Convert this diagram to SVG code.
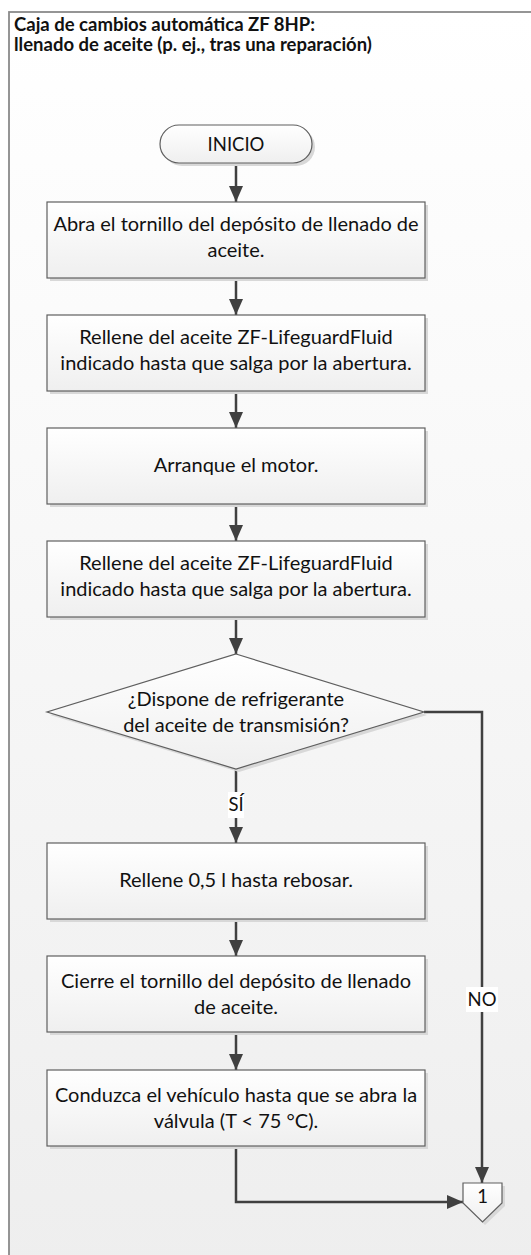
<svg xmlns="http://www.w3.org/2000/svg" width="531" height="1255" viewBox="0 0 531 1255">
<defs>
<linearGradient id="bg" x1="0" y1="0" x2="0" y2="1">
<stop offset="0" stop-color="#ffffff"/>
<stop offset="1" stop-color="#eeeeee"/>
</linearGradient>
<linearGradient id="nf" x1="0" y1="0" x2="0" y2="1">
<stop offset="0" stop-color="#ffffff"/>
<stop offset="1" stop-color="#efefef"/>
</linearGradient>
<marker id="ah" markerUnits="userSpaceOnUse" markerWidth="16" markerHeight="14" refX="16" refY="7" orient="auto">
<path d="M0,0 L16,7 L0,14 Z" fill="#404040"/>
</marker>
<style>
.box{fill:url(#nf);stroke:#5f5f5f;stroke-width:1.2}
.sh{fill:#d8d8d8}
.t{font-family:Lato,"Liberation Sans",sans-serif;font-size:20px;fill:#111;text-anchor:middle}
.s{font-size:18.5px}
.ttl{font-family:Lato,"Liberation Sans",sans-serif;font-size:18.5px;font-weight:bold;fill:#111}
.c{fill:none;stroke:#404040;stroke-width:2.5}
.lbl{fill:#ffffff}
</style>
</defs>
<rect x="9" y="12" width="540" height="1260" fill="url(#bg)" stroke="#8a8a8a" stroke-width="1.8"/>
<g id="title">
<text class="ttl" x="14" y="31">Caja de cambios automática ZF 8HP:</text>
<text class="ttl" x="14" y="51">llenado de aceite (p. ej., tras una reparación)</text>
</g>
<g id="connectors">
<line class="c" x1="236" y1="163" x2="236" y2="202" marker-end="url(#ah)"/>
<line class="c" x1="236" y1="278" x2="236" y2="315" marker-end="url(#ah)"/>
<line class="c" x1="236" y1="391" x2="236" y2="428" marker-end="url(#ah)"/>
<line class="c" x1="236" y1="504" x2="236" y2="541" marker-end="url(#ah)"/>
<line class="c" x1="236" y1="617" x2="236" y2="654" marker-end="url(#ah)"/>
<line class="c" x1="236" y1="769" x2="236" y2="843" marker-end="url(#ah)"/>
<line class="c" x1="236" y1="919" x2="236" y2="956" marker-end="url(#ah)"/>
<line class="c" x1="236" y1="1032" x2="236" y2="1070" marker-end="url(#ah)"/>
<polyline class="c" points="236,1146 236,1202 463,1202" marker-end="url(#ah)"/>
<polyline class="c" points="424,712 482,712 482,1183" marker-end="url(#ah)"/>
<rect class="lbl" x="228" y="792" width="16" height="26"/>
<text class="t s" x="236" y="811">SÍ</text>
<rect class="lbl" x="466" y="987" width="32" height="25"/>
<text class="t s" x="482" y="1006">NO</text>
</g>
<g id="inicio">
<rect x="163" y="128" width="152" height="38" rx="19" class="sh"/>
<rect x="160" y="125" width="152" height="38" rx="19" class="box"/>
<text class="t s" x="236" y="151">INICIO</text>
</g>
<g id="paso1">
<rect x="50" y="205" width="378" height="76" class="sh"/>
<rect x="47" y="202" width="378" height="76" class="box"/>
<text class="t" x="236" y="231">Abra el tornillo del depósito de llenado de</text>
<text class="t" x="236" y="257">aceite.</text>
</g>
<g id="paso2">
<rect x="50" y="318" width="378" height="76" class="sh"/>
<rect x="47" y="315" width="378" height="76" class="box"/>
<text class="t" x="236" y="344">Rellene del aceite ZF-LifeguardFluid</text>
<text class="t" x="236" y="370">indicado hasta que salga por la abertura.</text>
</g>
<g id="paso3">
<rect x="50" y="431" width="378" height="76" class="sh"/>
<rect x="47" y="428" width="378" height="76" class="box"/>
<text class="t" x="236" y="472">Arranque el motor.</text>
</g>
<g id="paso4">
<rect x="50" y="544" width="378" height="76" class="sh"/>
<rect x="47" y="541" width="378" height="76" class="box"/>
<text class="t" x="236" y="570">Rellene del aceite ZF-LifeguardFluid</text>
<text class="t" x="236" y="596">indicado hasta que salga por la abertura.</text>
</g>
<g id="decision">
<polygon points="239,657 427,715 239,772 50,715" class="sh"/>
<polygon points="236,654 424,712 236,769 47,712" class="box"/>
<text class="t" x="236" y="706">¿Dispone de refrigerante</text>
<text class="t" x="236" y="732">del aceite de transmisión?</text>
</g>
<g id="paso5">
<rect x="50" y="846" width="378" height="76" class="sh"/>
<rect x="47" y="843" width="378" height="76" class="box"/>
<text class="t" x="236" y="887">Rellene 0,5 l hasta rebosar.</text>
</g>
<g id="paso6">
<rect x="50" y="959" width="378" height="76" class="sh"/>
<rect x="47" y="956" width="378" height="76" class="box"/>
<text class="t" x="236" y="988">Cierre el tornillo del depósito de llenado</text>
<text class="t" x="236" y="1014">de aceite.</text>
</g>
<g id="paso7">
<rect x="50" y="1073" width="378" height="76" class="sh"/>
<rect x="47" y="1070" width="378" height="76" class="box"/>
<text class="t" x="236" y="1102">Conduzca el vehículo hasta que se abra la</text>
<text class="t" x="236" y="1128">válvula (T &lt; 75 °C).</text>
</g>
<g id="conector1">
<polygon points="466,1186 505,1186 505,1206 485,1225 466,1206" class="sh"/>
<polygon points="463,1183 502,1183 502,1203 482.5,1222 463,1203" class="box"/>
<text class="t s" x="482.5" y="1203">1</text>
</g>
</svg>
